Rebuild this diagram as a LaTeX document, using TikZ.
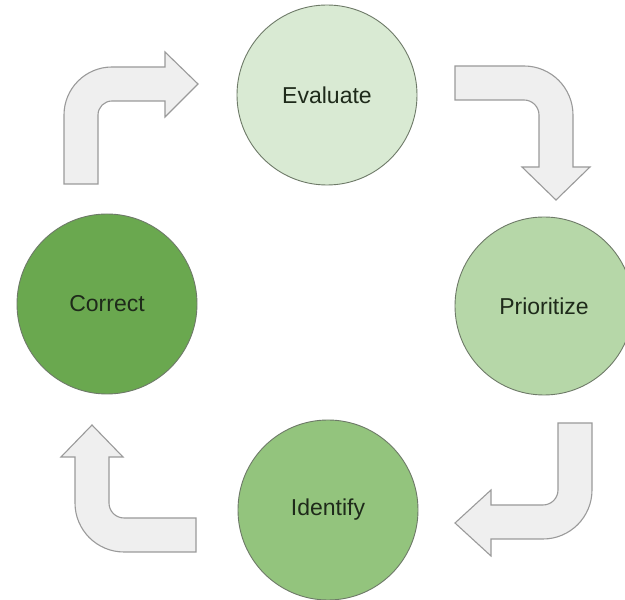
\documentclass[tikz,border=0pt]{standalone}
\usepackage{fontspec}
\setmainfont{Liberation Sans}
\definecolor{c1}{HTML}{D9EAD3}
\definecolor{c2}{HTML}{B6D7A8}
\definecolor{c3}{HTML}{93C47D}
\definecolor{c4}{HTML}{6AA84F}
\definecolor{arrfill}{HTML}{EFEFEF}
\definecolor{arrdraw}{HTML}{9A9A9A}
\definecolor{ring}{HTML}{6E7A68}
\definecolor{txt}{HTML}{1E2A1A}
\tikzset{
  stage/.style={circle, draw=ring, line width=0.9pt, minimum size=180pt, inner sep=0pt,
    font=\fontsize{23}{27}\selectfont, text=txt},
  bentarrow/.style={fill=arrfill, draw=arrdraw, line width=1.1pt, line join=miter}
}
\begin{document}
\begin{tikzpicture}[x=1pt,y=1pt]
\useasboundingbox (0,0) rectangle (625,600);
\fill[white] (0,0) rectangle (625,600);
% stages
\node[stage, fill=c1] (evaluate) at (327,505) {Evaluate};
\node[stage, fill=c2, minimum size=178pt] (prioritize) at (544,294) {Prioritize};
\node[stage, fill=c3] (identify) at (328,90) {Identify};
\node[stage, fill=c4] (correct) at (107,296) {Correct};
% arrow: Correct -> Evaluate
\draw[bentarrow] (64,416) -- (64,485) arc (180:90:48) -- (165,533) -- (165,548)
  -- (198,516) -- (165,483) -- (165,499) -- (112,499) arc (90:180:14) -- (98,416) -- cycle;
% arrow: Evaluate -> Prioritize
\draw[bentarrow] (455,534) -- (524,534) arc (90:0:49) -- (573,433) -- (590,433)
  -- (556,400) -- (522,433) -- (539,433) -- (539,485) arc (0:90:15) -- (455,500) -- cycle;
% arrow: Prioritize -> Identify
\draw[bentarrow] (558,177) -- (592,177) -- (592,110) arc (0:-90:49) -- (491,61) -- (491,44)
  -- (455,77) -- (491,110) -- (491,95) -- (543,95) arc (-90:0:15) -- cycle;
% arrow: Identify -> Correct
\draw[bentarrow] (196,48) -- (124,48) arc (-90:-180:49) -- (75,143) -- (61,143)
  -- (92,175) -- (123,143) -- (109,143) -- (109,97) arc (180:270:15) -- (196,82) -- cycle;
\end{tikzpicture}
\end{document}
